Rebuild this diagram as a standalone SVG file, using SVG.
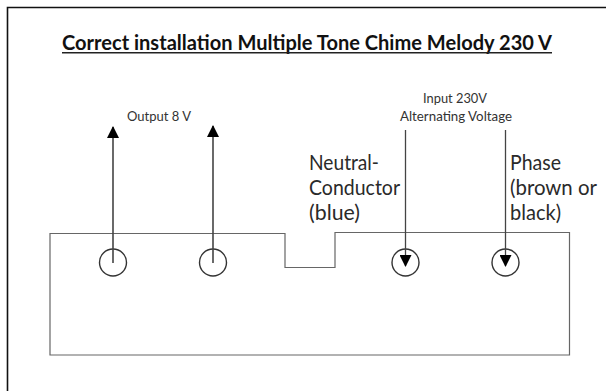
<svg xmlns="http://www.w3.org/2000/svg" width="606" height="391" viewBox="0 0 606 391">
<style>
text{font-family:"Lato","Open Sans",sans-serif;fill:#1a1a1a}
.t{font-size:21.5px;font-weight:700;fill:#111}
.s{font-size:12.5px;fill:#333}
.l{font-size:20.5px;fill:#2a2a2a}
.c{fill:#fff;stroke:#333;stroke-width:1.4}
.w{fill:none;stroke:#666;stroke-width:1.2}
.a{stroke:#444;stroke-width:1.3;fill:none}
</style>
<defs>
<marker id="h" markerUnits="userSpaceOnUse" markerWidth="12" markerHeight="12" refX="11" refY="6" orient="auto"><path d="M0 0L12 6L0 12Z" fill="#000"/></marker>
</defs>
<rect width="606" height="391" fill="#fff"/>
<path d="M7.500 391V7.500H606" fill="none" stroke="#111" stroke-width="1.6"/>
<text class="t" x="62" y="50" textLength="490" lengthAdjust="spacingAndGlyphs">Correct installation Multiple Tone Chime Melody 230 V</text>
<path d="M62 52.800H552" stroke="#222" stroke-width="1.4"/>
<g id="housing"><path class="w" d="M50 233.500H285V267.500H335V232.500H569.500V355H50Z"/></g>
<g id="terminal-1"><circle class="c" cx="113" cy="262.500" r="13.500"/></g>
<g id="terminal-2"><circle class="c" cx="213" cy="262.500" r="13.500"/></g>
<g id="terminal-3"><circle class="c" cx="405.500" cy="262.500" r="13.500"/></g>
<g id="terminal-4"><circle class="c" cx="505.500" cy="262.500" r="13.500"/></g>
<g id="connectors">
<path class="a" style="stroke-width:1.6" d="M113 263V127" marker-end="url(#h)"/>
<path class="a" style="stroke-width:1.6" d="M213 263V126" marker-end="url(#h)"/>
<path class="a" d="M405.500 130V266" marker-end="url(#h)"/>
<path class="a" d="M505.500 130V266" marker-end="url(#h)"/>
</g>
<g id="labels">
<text class="s" x="127" y="120.500" textLength="64" lengthAdjust="spacingAndGlyphs">Output 8 V</text>
<text class="s" x="423" y="103" textLength="64" lengthAdjust="spacingAndGlyphs">Input 230V</text>
<text class="s" x="400" y="120.500" textLength="112" lengthAdjust="spacingAndGlyphs">Alternating Voltage</text>
<text class="l" x="309" y="170" textLength="70" lengthAdjust="spacingAndGlyphs">Neutral-</text>
<text class="l" x="309" y="195" textLength="91" lengthAdjust="spacingAndGlyphs">Conductor</text>
<text class="l" x="309" y="220" textLength="51" lengthAdjust="spacingAndGlyphs">(blue)</text>
<text class="l" x="510" y="170" textLength="51" lengthAdjust="spacingAndGlyphs">Phase</text>
<text class="l" x="510" y="195" textLength="87" lengthAdjust="spacingAndGlyphs">(brown or</text>
<text class="l" x="510" y="220" textLength="51" lengthAdjust="spacingAndGlyphs">black)</text>
</g>
</svg>
